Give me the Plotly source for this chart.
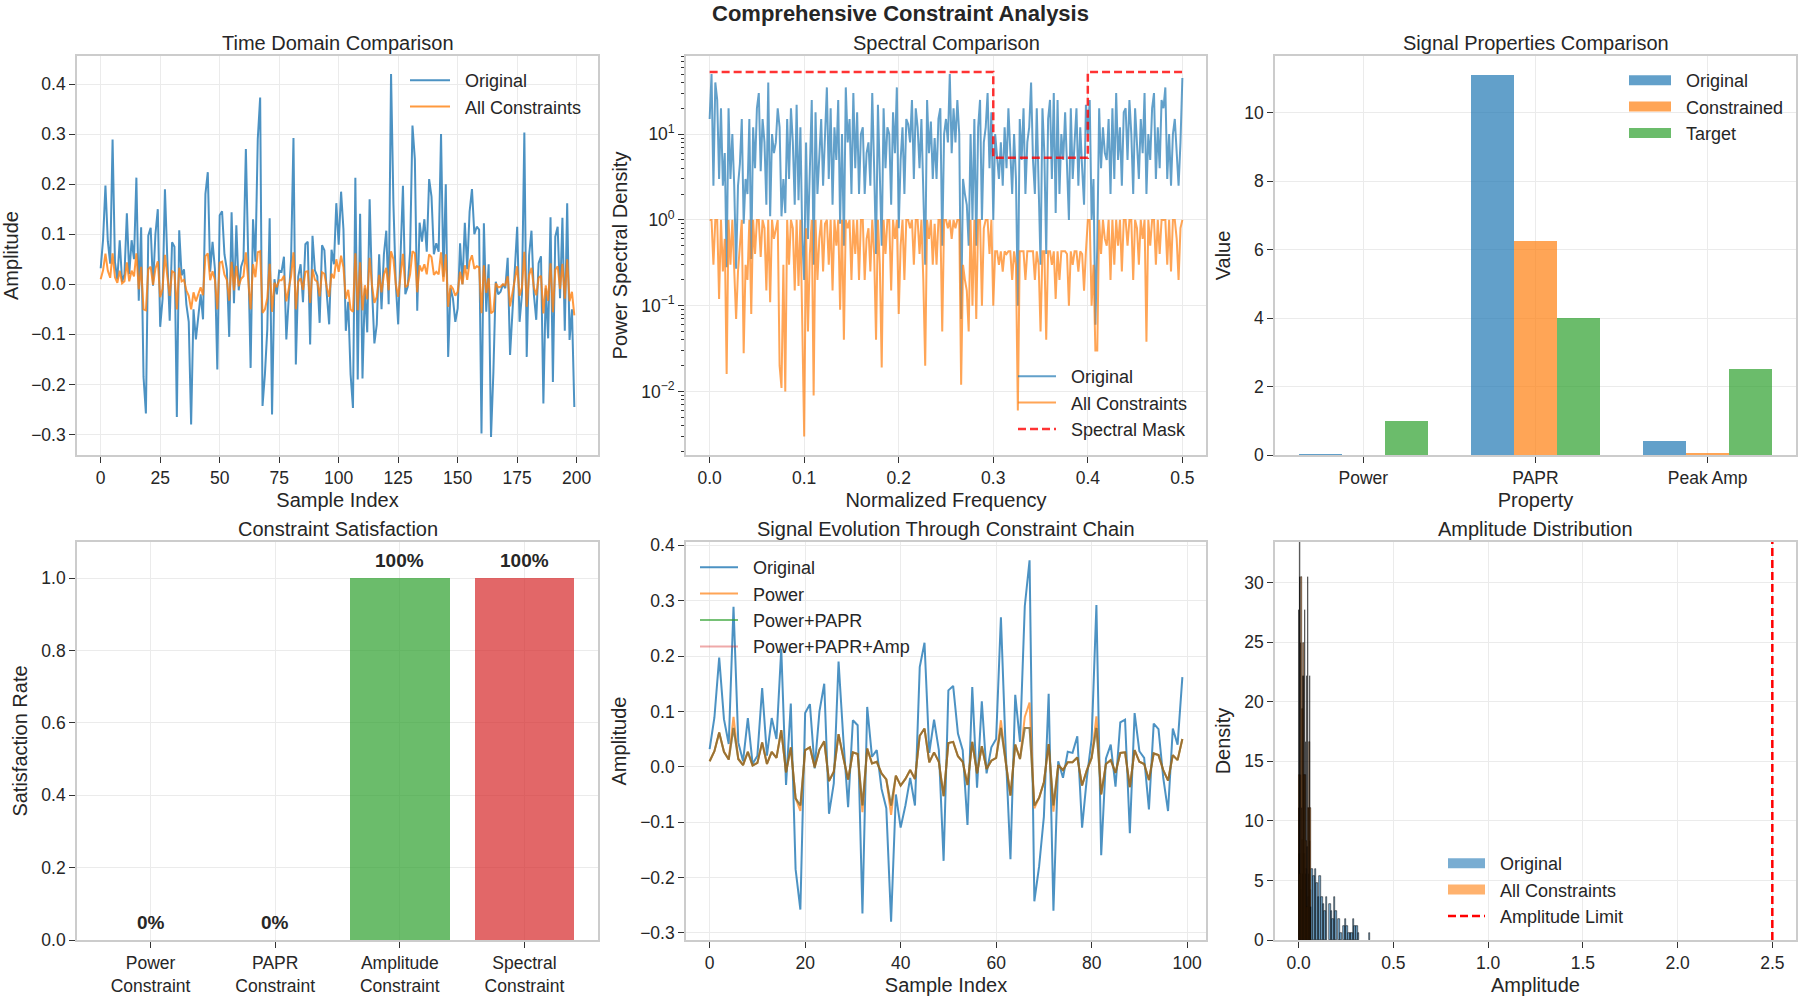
import numpy as np
import plotly.graph_objects as go
from plotly.subplots import make_subplots

# ---------------- data ----------------
sample_index = list(range(200))
original = [
    0.032, 0.089, 0.197, 0.086, 0.041, 0.289, 0.044, 0.010, 0.088, 0.005,
    0.020, 0.142, 0.020, 0.088, 0.050, 0.213, -0.033, 0.114, -0.185, -0.258,
    0.097, 0.113, -0.003, 0.100, 0.150, -0.085, -0.030, 0.190, 0.050, -0.073,
    0.084, 0.075, -0.265, 0.108, 0.018, 0.030, -0.040, -0.075, -0.280, -0.050,
    -0.110, -0.070, -0.020, -0.070, 0.180, 0.224, 0.025, 0.085, 0.030, -0.170,
    0.138, 0.146, 0.060, 0.030, -0.105, 0.144, -0.038, 0.118, -0.012, 0.035,
    0.050, 0.270, 0.030, -0.167, 0.130, 0.045, 0.290, 0.373, -0.243, -0.180,
    -0.090, 0.132, -0.260, 0.010, -0.020, 0.027, 0.025, 0.055, -0.110, -0.020,
    0.050, 0.292, -0.160, 0.015, 0.040, -0.036, 0.080, 0.085, -0.120, 0.097,
    0.028, 0.016, -0.077, 0.078, 0.068, -0.020, -0.080, 0.069, 0.040, 0.162,
    0.079, 0.185, 0.110, -0.093, -0.035, -0.180, -0.247, 0.213, -0.190, 0.141,
    -0.188, -0.008, -0.096, 0.170, -0.008, -0.118, -0.080, 0.060, -0.050, 0.060,
    0.107, -0.040, 0.420, 0.160, 0.000, -0.080, 0.045, 0.197, -0.020, -0.005,
    0.065, 0.317, 0.250, -0.053, 0.123, 0.085, 0.130, 0.065, 0.210, 0.175,
    0.060, 0.082, 0.065, 0.300, 0.015, 0.200, -0.145, -0.008, -0.028, -0.075,
    -0.048, 0.082, 0.000, 0.123, 0.030, 0.145, 0.190, 0.100, 0.115, 0.109,
    -0.298, 0.122, -0.055, 0.040, -0.305, -0.175, 0.005, -0.020, -0.015, 0.000,
    -0.008, 0.053, -0.141, -0.048, 0.025, 0.115, -0.075, -0.020, 0.303, -0.145,
    0.058, 0.107, -0.020, -0.071, 0.042, 0.056, -0.238, -0.008, -0.108, 0.134,
    -0.195, 0.095, 0.115, -0.028, 0.133, -0.093, 0.162, -0.111, -0.050, -0.245,
]
all_constraints = [
    0.010, 0.028, 0.061, 0.027, 0.013, 0.062, 0.014, 0.003, 0.027, 0.002,
    0.006, 0.044, 0.006, 0.027, 0.016, 0.062, -0.010, 0.035, -0.050, -0.052,
    0.030, 0.035, -0.001, 0.031, 0.046, -0.026, -0.009, 0.059, 0.016, -0.023,
    0.026, 0.023, -0.050, 0.033, 0.006, 0.009, -0.012, -0.023, -0.050, -0.016,
    -0.034, -0.022, -0.006, -0.022, 0.056, 0.062, 0.008, 0.026, 0.009, -0.050,
    0.043, 0.045, 0.019, 0.009, -0.033, 0.045, -0.012, 0.037, -0.004, 0.011,
    0.016, 0.064, 0.009, -0.050, 0.040, 0.014, 0.064, 0.066, -0.057, -0.050,
    -0.028, 0.041, -0.055, 0.003, -0.006, 0.008, 0.008, 0.017, -0.034, -0.006,
    0.016, 0.064, -0.050, 0.005, 0.012, -0.011, 0.025, 0.026, -0.037, 0.030,
    0.009, 0.005, -0.024, 0.024, 0.021, -0.006, -0.025, 0.021, 0.012, 0.050,
    0.025, 0.057, 0.034, -0.029, -0.011, -0.050, -0.055, 0.062, -0.052, 0.044,
    -0.052, -0.002, -0.030, 0.053, -0.002, -0.037, -0.025, 0.019, -0.016, 0.019,
    0.033, -0.012, 0.066, 0.050, 0.000, -0.025, 0.014, 0.061, -0.006, -0.002,
    0.020, 0.066, 0.062, -0.016, 0.038, 0.026, 0.040, 0.020, 0.060, 0.054,
    0.019, 0.025, 0.020, 0.064, 0.005, 0.060, -0.045, -0.002, -0.009, -0.023,
    -0.015, 0.025, 0.000, 0.038, 0.009, 0.045, 0.058, 0.031, 0.036, 0.034,
    -0.058, 0.038, -0.017, 0.012, -0.058, -0.054, 0.002, -0.006, -0.005, 0.000,
    -0.002, 0.016, -0.044, -0.015, 0.008, 0.036, -0.023, -0.006, 0.065, -0.045,
    0.018, 0.033, -0.006, -0.022, 0.013, 0.017, -0.058, -0.002, -0.033, 0.042,
    -0.056, 0.029, 0.036, -0.009, 0.041, -0.029, 0.050, -0.034, -0.015, -0.062,
]

chain_index = list(range(100))
chain_power = [
    0.010, 0.028, 0.062, 0.027, 0.013, 0.090, 0.014, 0.003, 0.027, 0.002,
    0.007, 0.044, 0.005, 0.027, 0.016, 0.066, -0.010, 0.035, -0.057, -0.080,
    0.030, 0.035, -0.001, 0.031, 0.046, -0.026, -0.009, 0.059, 0.016, -0.023,
    0.026, 0.023, -0.082, 0.033, 0.006, 0.009, -0.012, -0.023, -0.087, -0.016,
    -0.034, -0.022, -0.006, -0.022, 0.056, 0.069, 0.008, 0.026, 0.009, -0.053,
    0.043, 0.045, 0.019, 0.009, -0.033, 0.045, -0.012, 0.037, -0.004, 0.011,
    0.016, 0.084, 0.009, -0.052, 0.040, 0.014, 0.090, 0.116, -0.075, -0.056,
    -0.028, 0.041, -0.081, 0.003, -0.006, 0.008, 0.008, 0.017, -0.034, -0.006,
    0.016, 0.091, -0.050, 0.005, 0.012, -0.011, 0.025, 0.026, -0.037, 0.030,
    0.009, 0.005, -0.024, 0.024, 0.021, -0.006, -0.025, 0.021, 0.012, 0.050,
]
chain_power_papr = [
    0.010, 0.028, 0.062, 0.027, 0.013, 0.070, 0.014, 0.003, 0.027, 0.002,
    0.007, 0.044, 0.005, 0.027, 0.016, 0.066, -0.010, 0.035, -0.057, -0.070,
    0.030, 0.035, -0.001, 0.031, 0.046, -0.026, -0.009, 0.059, 0.016, -0.023,
    0.026, 0.023, -0.070, 0.033, 0.006, 0.009, -0.012, -0.023, -0.070, -0.016,
    -0.034, -0.022, -0.006, -0.022, 0.056, 0.069, 0.008, 0.026, 0.009, -0.053,
    0.043, 0.045, 0.019, 0.009, -0.033, 0.045, -0.012, 0.037, -0.004, 0.011,
    0.016, 0.070, 0.009, -0.052, 0.040, 0.014, 0.070, 0.070, -0.070, -0.056,
    -0.028, 0.041, -0.070, 0.003, -0.006, 0.008, 0.008, 0.017, -0.034, -0.006,
    0.016, 0.070, -0.050, 0.005, 0.012, -0.011, 0.025, 0.026, -0.037, 0.030,
    0.009, 0.005, -0.024, 0.024, 0.021, -0.006, -0.025, 0.021, 0.012, 0.050,
]
chain_power_papr_amp = [
    0.010, 0.028, 0.062, 0.027, 0.013, 0.070, 0.014, 0.003, 0.027, 0.002,
    0.007, 0.044, 0.005, 0.027, 0.016, 0.066, -0.010, 0.035, -0.057, -0.070,
    0.030, 0.035, -0.001, 0.031, 0.046, -0.026, -0.009, 0.059, 0.016, -0.023,
    0.026, 0.023, -0.070, 0.033, 0.006, 0.009, -0.012, -0.023, -0.070, -0.016,
    -0.034, -0.022, -0.006, -0.022, 0.056, 0.069, 0.008, 0.026, 0.009, -0.053,
    0.043, 0.045, 0.019, 0.009, -0.033, 0.045, -0.012, 0.037, -0.004, 0.011,
    0.016, 0.070, 0.009, -0.052, 0.040, 0.014, 0.070, 0.070, -0.070, -0.056,
    -0.028, 0.041, -0.070, 0.003, -0.006, 0.008, 0.008, 0.017, -0.034, -0.006,
    0.016, 0.070, -0.050, 0.005, 0.012, -0.011, 0.025, 0.026, -0.037, 0.030,
    0.009, 0.005, -0.024, 0.024, 0.021, -0.006, -0.025, 0.021, 0.012, 0.050,
]

psd_original = [
    15, 50, 2.5, 40, 25, 3, 20, 2.5, 6, 0.28,
    20, 3, 10, 2.5, 0.27, 2.5, 4.5, 15, 0.9, 3,
    2, 15, 0.35, 12, 4, 20, 30, 3.7, 15, 8,
    1.5, 40, 1.1, 10, 6, 8, 20, 12, 1.1, 3,
    1.2, 15, 3, 20, 8, 1.5, 22, 1.7, 12, 0.6,
    0.2, 8, 0.6, 4, 25, 0.3, 18, 2, 6, 15,
    2.5, 9, 35, 3, 20, 1.5, 12, 5, 25, 0.9,
    10, 0.5, 35, 8, 15, 2, 30, 4, 18, 2,
    10, 12, 2, 6, 8, 2.5, 30, 4, 0.4, 22,
    3, 0.5, 20, 4, 12, 10, 1.5, 18, 6, 35,
    0.8, 5, 12, 2, 15, 13, 8, 25, 3, 20,
    12, 4, 15, 2, 0.3, 25, 6, 14, 3, 9,
    3, 15, 20, 0.5, 10, 15, 8, 50, 6, 20,
    8, 25, 10, 0.07, 3, 2, 1.5, 0.5, 10, 1,
    15, 0.5, 12, 25, 1, 8, 12, 30, 4, 18,
    1, 10, 5, 3, 8, 2.5, 12, 4, 20, 6,
    2, 10, 3, 0.1, 15, 5, 20, 2, 8, 12,
    40, 5, 2, 20, 3, 0.3, 20, 6, 0.4, 15,
    25, 3, 30, 1.2, 25, 2, 10, 5, 18, 4,
    1, 20, 3, 8, 20, 2.5, 12, 4, 1.5, 22,
    10, 25, 1, 3, 0.06, 0.5, 20, 4, 12, 6,
    5, 15, 2, 20, 3, 30, 5, 12, 2.5, 18,
    20, 5, 25, 10, 2, 20, 8, 3, 15, 6,
    30, 2, 10, 5, 20, 30, 3, 12, 4, 25,
    20, 35, 3, 10, 2.5, 10, 15, 6, 2.5, 8,
    45,
]
psd_constrained = [
    1, 1, 0.3, 1, 1, 0.12, 1, 0.25, 0.6, 0.016,
    1, 0.3, 1, 0.2, 0.07, 0.25, 0.45, 1, 0.028, 0.3,
    0.2, 1, 0.08, 1, 0.4, 1, 1, 0.37, 1, 0.8,
    0.15, 1, 0.11, 1, 0.6, 0.8, 1, 0.02, 0.011, 0.3,
    0.01, 1, 0.3, 1, 0.8, 0.15, 1, 0.17, 1, 0.06,
    0.003, 0.8, 0.05, 0.4, 1, 0.009, 1, 0.2, 0.6, 1,
    0.25, 0.9, 1, 0.3, 1, 0.15, 1, 0.5, 1, 0.09,
    1, 0.04, 1, 0.8, 1, 0.2, 1, 0.4, 1, 0.2,
    1, 1, 0.2, 0.6, 0.8, 0.25, 1, 0.4, 0.04, 1,
    0.3, 0.019, 1, 0.4, 1, 1, 0.15, 1, 0.6, 1,
    0.08, 0.5, 1, 0.2, 1, 1, 0.8, 1, 0.3, 1,
    1, 0.4, 1, 0.2, 0.02, 1, 0.6, 1, 0.3, 0.9,
    0.3, 1, 1, 0.05, 1, 1, 0.8, 1, 0.6, 1,
    0.8, 1, 1, 0.012, 0.3, 0.2, 0.15, 0.05, 1, 0.1,
    1, 0.07, 1, 1, 0.1, 0.8, 1, 1, 0.4, 1,
    0.1, 0.43, 0.43, 0.3, 0.43, 0.25, 0.43, 0.4, 0.43, 0.43,
    0.2, 0.43, 0.3, 0.006, 0.43, 0.43, 0.43, 0.2, 0.43, 0.43,
    0.43, 0.43, 0.2, 0.43, 0.3, 0.05, 0.43, 0.43, 0.04, 0.43,
    0.43, 0.3, 0.43, 0.12, 0.43, 0.2, 0.43, 0.43, 0.43, 0.4,
    0.1, 0.43, 0.3, 0.43, 0.43, 0.25, 0.43, 0.4, 0.15, 0.43,
    1, 1, 0.1, 0.3, 0.03, 0.03, 1, 0.4, 1, 0.6,
    0.5, 1, 0.2, 1, 0.3, 1, 0.5, 1, 0.25, 1,
    1, 0.5, 1, 1, 0.2, 1, 0.8, 0.3, 1, 0.6,
    1, 0.038, 1, 0.5, 1, 1, 0.3, 1, 0.4, 1,
    1, 1, 0.3, 1, 0.25, 1, 1, 0.6, 0.2, 0.8,
    1,
]
mask_freq = [0.0, 0.3, 0.3, 0.4, 0.4, 0.5]
mask_level = [53, 53, 5.3, 5.3, 53, 53]

prop_names = ["Power", "PAPR", "Peak Amp"]
prop_original = [0.016, 11.1, 0.40]
prop_constrained = [0.0007, 6.25, 0.065]
prop_target = [1.0, 4.0, 2.5]

constraint_names = ["Power<br>Constraint", "PAPR<br>Constraint",
                    "Amplitude<br>Constraint", "Spectral<br>Constraint"]
satisfaction = [0.0, 0.0, 1.0, 1.0]

amplitude_limit = 2.5

# ---------------- styling ----------------
FONT = "Liberation Sans, Arial, sans-serif"
TXT = "#262626"
BLUE, ORANGE, GREEN, RED = "31,119,180", "255,127,14", "44,160,44", "214,39,40"
GAP = "\u00a0\u00a0"  # small gap between legend symbol and label


def rgba(c, a):
    return f"rgba({c},{a})"


W, H = 1800, 1000
cols_px = [(77, 598), (686, 1206), (1275, 1796)]
rows_px = [(56, 455), (542, 940)]


def xd(c):
    return [cols_px[c][0] / W, cols_px[c][1] / W]


def yd(r):
    return [1 - rows_px[r][1] / H, 1 - rows_px[r][0] / H]


fig = make_subplots(rows=2, cols=3)

# Panel 1: time domain
fig.add_trace(go.Scatter(x=sample_index, y=original, mode="lines", name=GAP + "Original",
                         line=dict(color=rgba(BLUE, 0.8), width=2), legend="legend"), row=1, col=1)
fig.add_trace(go.Scatter(x=sample_index, y=all_constraints, mode="lines", name=GAP + "All Constraints",
                         line=dict(color=rgba(ORANGE, 0.8), width=2), legend="legend"), row=1, col=1)

# Panel 2: spectral
freqs = np.linspace(0, 0.5, len(psd_original))
fig.add_trace(go.Scatter(x=freqs, y=psd_original, mode="lines", name=GAP + "Original",
                         line=dict(color=rgba(BLUE, 0.7), width=2), legend="legend2"), row=1, col=2)
fig.add_trace(go.Scatter(x=freqs, y=psd_constrained, mode="lines", name=GAP + "All Constraints",
                         line=dict(color=rgba(ORANGE, 0.7), width=2), legend="legend2"), row=1, col=2)
fig.add_trace(go.Scatter(x=mask_freq, y=mask_level, mode="lines", name=GAP + "Spectral Mask",
                         line=dict(color="rgba(255,0,0,0.8)", width=2.5, dash="8px,4px"),
                         legend="legend2"), row=1, col=2)


def legend_patch(name, color, legend, row, col):
    # legend-only entry drawn as a wide patch (matplotlib style)
    fig.add_trace(go.Scatter(x=[None], y=[None], mode="lines", name=GAP + name,
                             line=dict(color=color, width=13), legend=legend), row=row, col=col)


# Panel 3: property bars
for vals, nm, c, off in [(prop_original, "Original", BLUE, -0.375),
                         (prop_constrained, "Constrained", ORANGE, -0.125),
                         (prop_target, "Target", GREEN, 0.125)]:
    fig.add_trace(go.Bar(x=prop_names, y=vals, name=nm, width=0.25, offset=off, showlegend=False,
                         marker=dict(color=rgba(c, 0.7), line=dict(width=0))), row=1, col=3)
    legend_patch(nm, rgba(c, 0.7), "legend3", 1, 3)

# Panel 4: satisfaction
sat_colors = [rgba(BLUE, 0.7), rgba(ORANGE, 0.7), rgba(GREEN, 0.7), rgba(RED, 0.7)]
fig.add_trace(go.Bar(x=constraint_names, y=satisfaction, width=0.8, showlegend=False,
                     marker=dict(color=sat_colors, line=dict(width=0))), row=2, col=1)
for nm, v in zip(constraint_names, satisfaction):
    fig.add_annotation(x=nm, y=v + 0.015, xref="x4", yref="y4", text=f"<b>{v*100:.0f}%</b>",
                       showarrow=False, yanchor="bottom", font=dict(size=19, color=TXT, family=FONT))

# Panel 5: chain
for vals, nm, c, a in [(original[:100], "Original", BLUE, 0.8),
                       (chain_power, "Power", ORANGE, 0.7),
                       (chain_power_papr, "Power+PAPR", GREEN, 0.65),
                       (chain_power_papr_amp, "Power+PAPR+Amp", RED, 0.4)]:
    fig.add_trace(go.Scatter(x=chain_index, y=vals, mode="lines", name=GAP + nm,
                             line=dict(color=rgba(c, a), width=2), legend="legend4"), row=2, col=2)

# Panel 6: histogram
abs_orig = np.abs(np.array(original))
abs_cons = np.abs(np.array(all_constraints))
for arr, nm, c, grp, nb in [(abs_orig, "Original", BLUE, "a", 50), (abs_cons, "All Constraints", ORANGE, "b", 36)]:
    lo, hi = float(arr.min()), float(arr.max())
    fig.add_trace(go.Histogram(x=arr, name=nm, histnorm="probability density", bingroup=grp,
                               xbins=dict(start=lo, end=hi + 1e-9, size=(hi - lo) / nb), showlegend=False,
                               marker=dict(color=rgba(c, 0.6), line=dict(color="rgba(0,0,0,0.85)", width=0.6))),
                  row=2, col=3)
    legend_patch(nm, rgba(c, 0.6), "legend5", 2, 3)
fig.add_shape(type="line", x0=amplitude_limit, x1=amplitude_limit, y0=0, y1=1,
              xref="x6", yref="y6 domain", line=dict(color="red", width=2.5, dash="8px,4px"),
              showlegend=True, name=GAP + "Amplitude Limit", legend="legend5")

# ---------------- axes ----------------
axis_common = dict(showline=True, linecolor="#cccccc", linewidth=1.6, mirror=True,
                   showgrid=True, gridcolor="#ebebeb", gridwidth=1, zeroline=False,
                   ticks="outside", ticklen=6, tickwidth=1.4, tickcolor="#333333",
                   tickfont=dict(size=17.5, color=TXT, family=FONT),
                   title_font=dict(size=20, color=TXT, family=FONT), automargin=False)

fig.update_xaxes(**axis_common)
fig.update_yaxes(**axis_common)

fig.update_layout(
    xaxis=dict(domain=xd(0), range=[-9.95, 208.95], dtick=25, title=dict(text="Sample Index", standoff=6)),
    yaxis=dict(domain=yd(0), range=[-0.341, 0.456], dtick=0.1, tickformat=".1f", title=dict(text="Amplitude", standoff=8)),
    xaxis2=dict(domain=xd(1), range=[-0.025, 0.525], dtick=0.1, tickformat=".1f",
                title=dict(text="Normalized Frequency", standoff=6)),
    yaxis2=dict(domain=yd(0), type="log", range=[-2.74, 1.91],
                tickvals=[0.01, 0.1, 1, 10],
                ticktext=["10<sup>−2</sup>", "10<sup>−1</sup>", "10<sup>0</sup>", "10<sup>1</sup>"],
                minor=dict(ticks="outside", ticklen=3.5, tickwidth=1, tickcolor="#333333", dtick="D1", showgrid=False),
                title=dict(text="Power Spectral Density", standoff=8)),
    xaxis3=dict(domain=xd(2), range=[-0.5125, 2.5125], title=dict(text="Property", standoff=6)),
    yaxis3=dict(domain=yd(0), range=[0, 11.66], dtick=2, title=dict(text="Value", standoff=8)),
    xaxis4=dict(domain=xd(0), range=[-0.59, 3.59]),
    yaxis4=dict(domain=yd(1), range=[0, 1.1], dtick=0.2, tickformat=".1f",
                title=dict(text="Satisfaction Rate", standoff=8)),
    xaxis5=dict(domain=xd(1), range=[-4.95, 103.95], dtick=20, title=dict(text="Sample Index", standoff=6)),
    yaxis5=dict(domain=yd(1), range=[-0.313, 0.406], dtick=0.1, tickformat=".1f",
                title=dict(text="Amplitude", standoff=8)),
    xaxis6=dict(domain=xd(2), range=[-0.125, 2.625], dtick=0.5, tickformat=".1f",
                title=dict(text="Amplitude", standoff=6)),
    yaxis6=dict(domain=yd(1), range=[0, 33.4], dtick=5, title=dict(text="Density", standoff=8)),
)


# ---------------- legends ----------------
def leg(x, y, iw):
    return dict(x=x / W, y=1 - y / H, xanchor="left", yanchor="top", bgcolor="rgba(255,255,255,0)",
                borderwidth=0, font=dict(size=18, color=TXT, family=FONT), tracegroupgap=0,
                itemwidth=iw)


fig.update_layout(
    legend=leg(405, 62, 40),
    legend2=leg(1013, 358, 38),
    legend3=leg(1624, 62, 42),
    legend4=leg(695, 549, 38),
    legend5=leg(1443, 845, 37),
)

# ---------------- titles ----------------
titles = [("Time Domain Comparison", 0, 0), ("Spectral Comparison", 1, 0), ("Signal Properties Comparison", 2, 0),
          ("Constraint Satisfaction", 0, 1), ("Signal Evolution Through Constraint Chain", 1, 1),
          ("Amplitude Distribution", 2, 1)]
for t, c, r in titles:
    fig.add_annotation(x=sum(xd(c)) / 2, y=yd(r)[1] + 0.0005, xref="paper", yref="paper", text=t,
                       showarrow=False, xanchor="center", yanchor="bottom",
                       font=dict(size=20, color=TXT, family=FONT))
fig.add_annotation(x=0.5, y=1 - 13 / H, xref="paper", yref="paper",
                   text="<b>Comprehensive Constraint Analysis</b>", showarrow=False,
                   xanchor="center", yanchor="middle", font=dict(size=22, color=TXT, family=FONT))

fig.update_layout(width=W, height=H, margin=dict(l=0, r=0, t=0, b=0),
                  paper_bgcolor="white", plot_bgcolor="white", barmode="overlay",
                  font=dict(family=FONT, color=TXT))

fig.write_html("out.html")
